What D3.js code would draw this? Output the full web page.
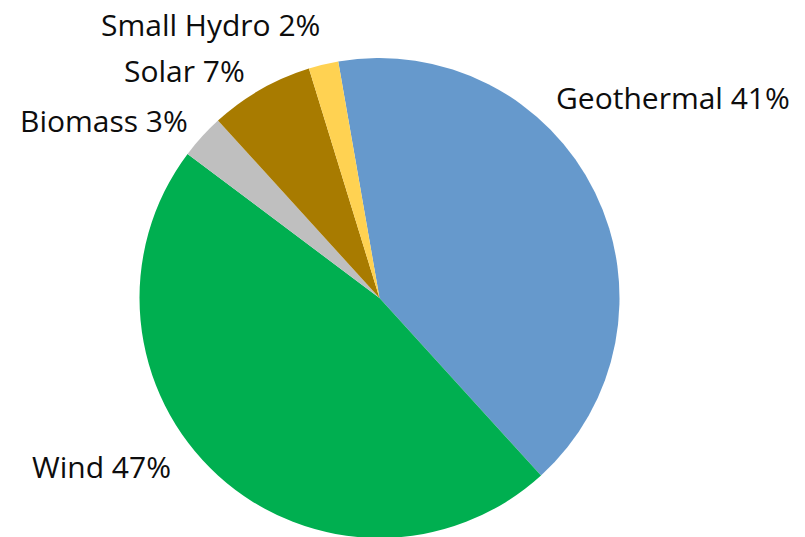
<!DOCTYPE html>
<html>
<head>
<meta charset="utf-8">
<script src="https://cdn.jsdelivr.net/npm/d3@7"></script>
<style>
  html, body { margin: 0; padding: 0; background: #fff; }
  svg { display: block; }
  text { font-family: "Open Sans", "Noto Sans", sans-serif; fill: #0d0d0d; }
</style>
</head>
<body>
<svg id="chart" width="805" height="537"></svg>
<script>
// Renewable generation mix (percent share)
const categories = ["Geothermal", "Wind", "Biomass", "Solar", "Small Hydro"];
const shares = [41, 47, 3, 7, 2];
const colors = ["#6699cc", "#00af50", "#bfbfbf", "#a87b00", "#ffd252"];

// Label anchor points (text start, baseline)
const labelPos = [
  [556, 109],
  [32, 478],
  [20, 132],
  [124, 82],
  [101, 36]
];

const width = 805, height = 537;
const cx = 379.5, cy = 298, radius = 240;
const startDeg = -9.9;

const svg = d3.select("#chart");
const g = svg.append("g").attr("transform", `translate(${cx},${cy})`);

const data = categories.map((c, i) => ({ name: c, value: shares[i], color: colors[i] }));

const pie = d3.pie()
  .value(d => d.value)
  .sort(null)
  .startAngle(startDeg * Math.PI / 180)
  .endAngle((startDeg + 360) * Math.PI / 180);

const arc = d3.arc().innerRadius(0).outerRadius(radius);

g.selectAll("path.slice")
  .data(pie(data))
  .join("path")
  .attr("class", "slice")
  .attr("d", arc)
  .attr("fill", d => d.data.color);

const total = d3.sum(shares);
svg.selectAll("text.label")
  .data(data)
  .join("text")
  .attr("class", "label")
  .attr("x", (d, i) => labelPos[i][0])
  .attr("y", (d, i) => labelPos[i][1])
  .attr("font-size", 30)
  .text(d => `${d.name} ${Math.round(d.value / total * 100)}%`);
</script>
</body>
</html>
